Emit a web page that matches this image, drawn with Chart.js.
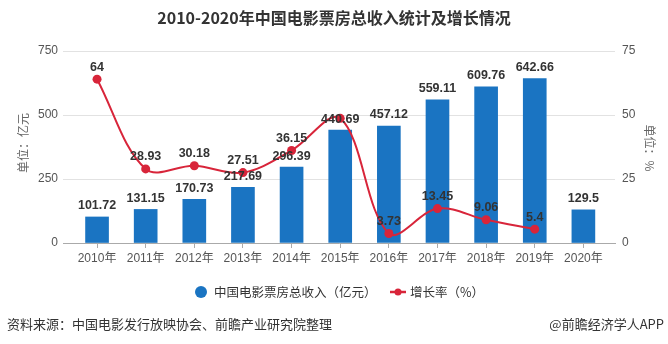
<!DOCTYPE html>
<html>
<head>
<meta charset="utf-8">
<script src="https://cdn.jsdelivr.net/npm/chart.js@4.4.0/dist/chart.umd.min.js"></script>
<style>
  body { margin: 0; background: #fff; }
  #wrap { width: 668px; height: 344px; position: relative; }
</style>
</head>
<body>
<div id="wrap"><canvas id="boxOfficeChart"></canvas></div>
<script>
// data
var years = ['2010年', '2011年', '2012年', '2013年', '2014年', '2015年', '2016年', '2017年', '2018年', '2019年', '2020年'];
var revenue = [101.72, 131.15, 170.73, 217.69, 296.39, 440.69, 457.12, 559.11, 609.76, 642.66, 129.5];
var growth = [64, 28.93, 30.18, 27.51, 36.15, 48.7, 3.73, 13.45, 9.06, 5.4, null];
var hiddenGrowthLabels = [5]; // 2015 label is covered in the original

var BLUE = '#1a74c2';
var RED = '#d8253a';
var FONT = '"Liberation Sans", "Noto Sans CJK SC", sans-serif';
var CJK = '"Noto Sans CJK SC", sans-serif';

Chart.defaults.font.family = FONT;
Chart.defaults.font.size = 12;
Chart.defaults.color = '#555';

var barData = revenue.map(function (v, i) { return { x: i, y: v }; });
var lineData = growth.map(function (v, i) { return { x: i, y: v }; });

// value labels + title, legend, axis names, footer
var textPlugin = {
  id: 'texts',
  afterDatasetsDraw: function (chart) {
    var c = chart.ctx;
    c.save();
    c.font = 'bold 12.5px ' + FONT;
    c.fillStyle = '#333';
    c.textAlign = 'center';
    c.textBaseline = 'middle';
    chart.getDatasetMeta(0).data.forEach(function (el, i) {
      c.fillText(String(revenue[i]), el.x, el.y - 11);
    });
    chart.getDatasetMeta(1).data.forEach(function (el, i) {
      if (growth[i] == null || hiddenGrowthLabels.indexOf(i) >= 0) return;
      c.fillText(String(growth[i]), el.x, el.y - 12);
    });
    c.restore();
  },
  afterDraw: function (chart) {
    var c = chart.ctx;
    c.save();
    // title
    c.fillStyle = '#333';
    c.font = 'bold 16px ' + CJK;
    c.textAlign = 'center';
    c.textBaseline = 'middle';
    c.fillText('2010-2020年中国电影票房总收入统计及增长情况', 334, 18);

    // axis names
    c.font = '12px ' + CJK;
    c.fillStyle = '#666';
    c.save();
    c.translate(23, 143);
    c.rotate(-Math.PI / 2);
    c.fillText('单位：亿元', 0, 0);
    c.restore();
    c.save();
    c.translate(650, 148);
    c.rotate(Math.PI / 2);
    c.fillText('单位：%', 0, 0);
    c.restore();

    // legend
    c.fillStyle = BLUE;
    c.beginPath();
    c.arc(201, 292, 6, 0, Math.PI * 2);
    c.fill();
    c.strokeStyle = RED;
    c.lineWidth = 2.5;
    c.beginPath();
    c.moveTo(390, 292);
    c.lineTo(406, 292);
    c.stroke();
    c.fillStyle = RED;
    c.beginPath();
    c.arc(398, 292, 3.5, 0, Math.PI * 2);
    c.fill();
    c.fillStyle = '#333';
    c.font = '12.5px ' + CJK;
    c.textAlign = 'left';
    c.fillText('中国电影票房总收入（亿元）', 214, 292);
    c.fillText('增长率（%）', 410, 292);

    // footer
    c.font = '13px ' + CJK;
    c.fillStyle = '#333';
    c.fillText('资料来源：中国电影发行放映协会、前瞻产业研究院整理', 7, 324);
    c.textAlign = 'right';
    c.fillText('@前瞻经济学人APP', 664, 324);
    c.restore();
  }
};

var ctx = document.getElementById('boxOfficeChart').getContext('2d');
var boxOfficeChart = new Chart(ctx, {
  type: 'bar',
  data: {
    datasets: [{
      type: 'bar',
      label: '中国电影票房总收入（亿元）',
      data: barData,
      backgroundColor: BLUE,
      barThickness: 23,
      yAxisID: 'y',
      order: 1
    }, {
      type: 'line',
      label: '增长率（%）',
      data: lineData,
      borderColor: RED,
      backgroundColor: RED,
      borderWidth: 2,
      pointRadius: 4.5,
      pointBackgroundColor: RED,
      pointBorderWidth: 0,
      tension: 0.35,
      yAxisID: 'y1',
      order: 0
    }]
  },
  plugins: [textPlugin],
  options: {
    responsive: true,
    maintainAspectRatio: false,
    animation: false,
    layout: { padding: { top: 51, left: 0, right: 0, bottom: 0 } },
    plugins: {
      legend: { display: false },
      title: { display: false },
      tooltip: { enabled: false }
    },
    scales: {
      x: {
        type: 'linear',
        offset: false,
        min: -0.7,
        max: 10.65,
        afterFit: function (s) { s.height = 101; },
        ticks: {
          stepSize: 1,
          includeBounds: false,
          autoSkip: false,
          maxRotation: 0,
          padding: 3,
          color: '#555',
          callback: function (v) { return Number.isInteger(v) ? years[v] : ''; }
        },
        grid: { offset: false, drawOnChartArea: false, drawTicks: true, tickLength: 5, color: '#aaa' },
        border: { color: '#aaa' }
      },
      y: {
        position: 'left',
        min: 0,
        max: 750,
        afterFit: function (s) { s.width = 63; },
        ticks: { stepSize: 250, padding: 5, color: '#555' },
        grid: { color: '#e2e2e2', drawTicks: false },
        border: { display: false }
      },
      y1: {
        position: 'right',
        min: 0,
        max: 75,
        afterFit: function (s) { s.width = 53; },
        ticks: { stepSize: 25, padding: 7, color: '#555' },
        grid: { display: false, drawTicks: false },
        border: { display: false }
      }
    }
  }
});
</script>
</body>
</html>
